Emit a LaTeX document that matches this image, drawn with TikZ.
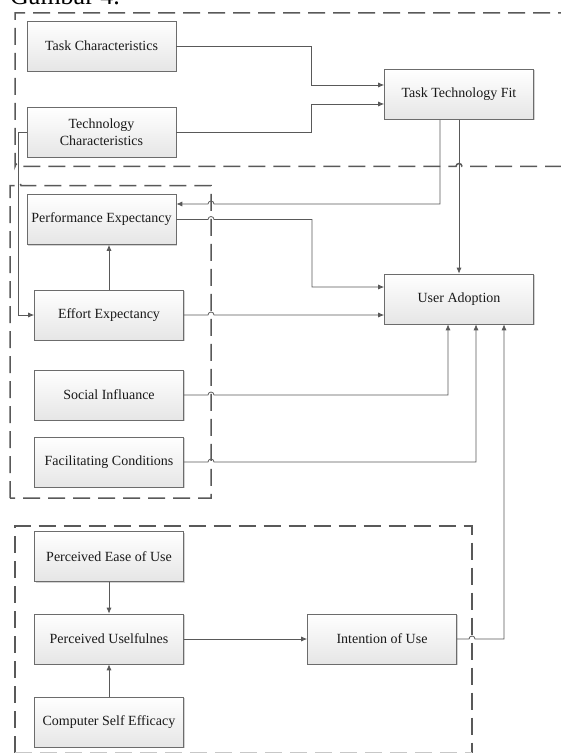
\documentclass[tikz,border=0pt]{standalone}
\usepackage{fontspec}
\setmainfont{Liberation Serif}
\usetikzlibrary{arrows.meta,shadows,calc}
\begin{document}
\begin{tikzpicture}[x=1pt,y=-1pt,
  box/.style={draw=gray!85!black, line width=0.6pt, top color=white, bottom color=gray!20,
    minimum width=149pt, minimum height=50pt, inner sep=2pt, align=center,
    font=\fontsize{14}{17}\selectfont, text=black!90,
    drop shadow={shadow xshift=1pt,shadow yshift=-1pt,opacity=0.35}},
  conn/.style={draw=black!65, line width=0.8pt},
  arr/.style={conn, -{Latex[length=6pt,width=5pt]}},
  dbox/.style={draw=black!65, line width=1.5pt, dash pattern=on 17pt off 8pt},
]
\useasboundingbox (0,0) rectangle (561,754);
\clip (0,0) rectangle (561,754);

% title (cut off at the top, as in the reference)
\node[anchor=base west, inner sep=0pt, font=\fontsize{26}{28}\selectfont] (title) at (10,4.5) {Gambar 4.};

% dashed groups
\draw[dbox] (575,13) -- (15,13) -- (15,166.5) arc[start angle=180,end angle=0,radius=3pt]
  -- (456,166.5) arc[start angle=180,end angle=0,radius=3pt] -- (575,166.5);
\draw[dbox] (10,498) -- (10,185.5) -- (15,185.5) arc[start angle=180,end angle=0,radius=3pt]
  -- (211,185.5) -- (211,498) -- cycle;
\draw[dbox] (15,752.5) -- (15,526) -- (472,526) -- (472,752.5);
\draw[dbox, draw=black!22] (15,752.5) -- (472,752.5);

% nodes
\node[box] (tc) at (101.5,46) {Task Characteristics};
\node[box] (tech) at (101.5,132.5) {Technology\\Characteristics};
\node[box] (ttf) at (459,94.5) {Task Technology Fit};
\node[box] (pe) at (101.5,219.5) {Performance Expectancy};
\node[box] (ee) at (109,315) {Effort Expectancy};
\node[box] (si) at (109,395) {Social Influance};
\node[box] (fc) at (109,462) {Facilitating Conditions};
\node[box] (ua) at (459,299) {User Adoption};
\node[box] (peou) at (109,556.5) {Perceived Ease of Use};
\node[box] (pu) at (109,639) {Perceived Uselfulnes};
\node[box] (iou) at (382,639) {Intention of Use};
\node[box] (cse) at (109,722) {Computer Self Efficacy};

% connectors
\draw[arr] (tc.east) -- ++(135,0) |- ([yshift=9.5pt]ttf.west);
\draw[arr] (tech.east) -- ++(135,0) |- ([yshift=-9.5pt]ttf.west);
\draw[arr] ([xshift=-19pt]ttf.south) -- (440,204) -- (214,204)
  arc[start angle=0,end angle=180,radius=3pt] -- ([yshift=15.5pt]pe.east);
\draw[arr] (ttf.south) -- (ua.north);
\draw[arr] (tech.west) -| (18,315) -- (ee.west);
\draw[arr] (pe.east) -- (208,219.5) arc[start angle=180,end angle=0,radius=3pt]
  -- (312,219.5) |- ([yshift=12pt]ua.west);
\draw[arr] (ee.east) -- (208,315) arc[start angle=180,end angle=0,radius=3pt]
  -- ([yshift=-16pt]ua.west);
\draw[arr] (si.east) -- (208,395) arc[start angle=180,end angle=0,radius=3pt]
  -- (448,395) -- ([xshift=-11pt]ua.south);
\draw[arr] (fc.east) -- (208,462) arc[start angle=180,end angle=0,radius=3pt]
  -- (476,462) -- ([xshift=17pt]ua.south);
\draw[arr] (iou.east) -- (469,639) arc[start angle=180,end angle=0,radius=3pt]
  -- (504,639) -- ([xshift=45pt]ua.south);
\draw[arr] (ee.north) -- (pe.south -| ee.north);
\draw[arr] (peou.south) -- (pu.north);
\draw[arr] (cse.north) -- (pu.south);
\draw[arr] (pu.east) -- (iou.west);
\end{tikzpicture}
\end{document}
